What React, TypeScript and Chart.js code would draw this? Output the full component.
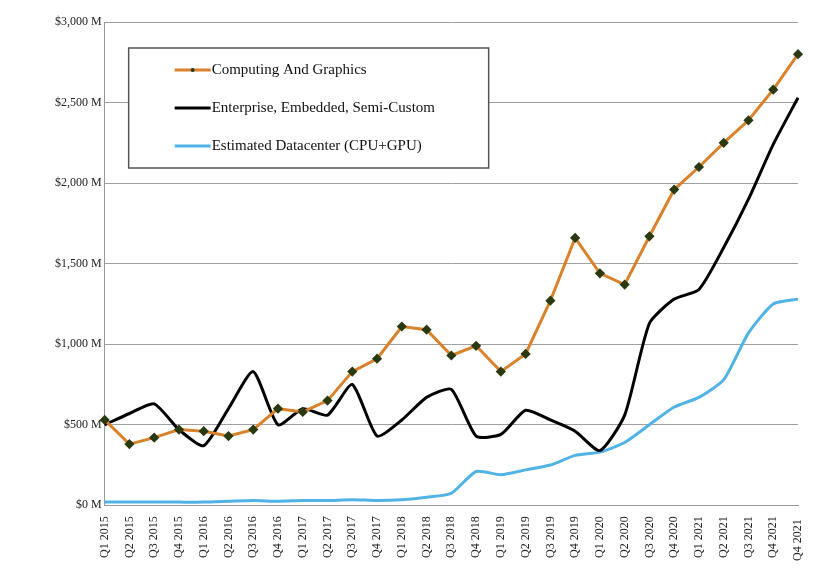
import React, { useEffect, useRef } from "react";
import { Chart, registerables } from "chart.js";
Chart.register(...registerables);

const labels = ["Q1 2015","Q2 2015","Q3 2015","Q4 2015","Q1 2016","Q2 2016","Q3 2016","Q4 2016","Q1 2017","Q2 2017","Q3 2017","Q4 2017","Q1 2018","Q2 2018","Q3 2018","Q4 2018","Q1 2019","Q2 2019","Q3 2019","Q4 2019","Q1 2020","Q2 2020","Q3 2020","Q4 2020","Q1 2021","Q2 2021","Q3 2021","Q4 2021","Q4 2021 "];
const computing = [530,380,420,470,460,430,470,600,580,650,830,910,1110,1090,930,990,830,940,1270,1660,1440,1370,1670,1960,2100,2250,2390,2580,2800];
const enterprise = [500,570,630,470,370,600,830,500,600,560,750,430,530,670,720,430,440,590,530,460,340,560,1130,1280,1340,1600,1900,2240,2530];
const datacenter = [20,20,20,20,20,25,30,25,30,30,35,30,35,50,75,210,190,220,250,310,330,390,500,610,670,780,1070,1250,1280];
const legendItems = ["Computing And Graphics","Enterprise, Embedded, Semi-Custom","Estimated Datacenter (CPU+GPU)"];
const legendColors = ["#d9822b","#000000","#4fb3e6"];
const FONT = "'Liberation Serif', serif";

const legendPlugin = {
  id: "boxLegend",
  afterDraw(chart: any) {
    const { ctx, chartArea } = chart;
    const x0 = chartArea.left + 24, y0 = chartArea.top + 26, w = 360, h = 120;
    ctx.save();
    ctx.fillStyle = "#fff";
    ctx.fillRect(x0, y0, w, h);
    ctx.strokeStyle = "#555";
    ctx.lineWidth = 1.5;
    ctx.strokeRect(x0, y0, w, h);
    ctx.font = "15px " + FONT;
    ctx.textBaseline = "middle";
    legendItems.forEach((t, i) => {
      const y = y0 + 22 + i * 38;
      ctx.strokeStyle = legendColors[i];
      ctx.lineWidth = 3;
      ctx.beginPath(); ctx.moveTo(x0 + 46, y); ctx.lineTo(x0 + 82, y); ctx.stroke();
      if (i === 0) { ctx.fillStyle = "#2a3a10"; ctx.beginPath(); ctx.arc(x0 + 64, y, 2, 0, Math.PI * 2); ctx.fill(); }
      ctx.fillStyle = "#111";
      ctx.fillText(t, x0 + 83, y);
    });
    ctx.restore();
  },
};

export default function App() {
  const ref = useRef<HTMLCanvasElement>(null);
  useEffect(() => {
    const chart = new Chart(ref.current!, {
      type: "line",
      data: {
        labels,
        datasets: [
          { data: computing, borderColor: "#d9822b", borderWidth: 3, tension: 0, pointRadius: 3, pointStyle: "rectRot", pointBackgroundColor: "#2a3a10", pointBorderColor: "#2a3a10" },
          { data: enterprise, borderColor: "#000", borderWidth: 3, tension: 0.2, pointRadius: 0 },
          { data: datacenter, borderColor: "#4fb3e6", borderWidth: 3, tension: 0.2, pointRadius: 0 },
        ],
      },
      options: {
        animation: false,
        responsive: false,
        layout: { padding: { top: 14, right: 18, left: 44, bottom: 4 } },
        plugins: { legend: { display: false }, tooltip: { enabled: false } },
        scales: {
          x: {
            offset: false,
            grid: { display: false },
            border: { color: "#999" },
            ticks: { maxRotation: 90, minRotation: 90, autoSkip: false, color: "#222", font: { family: FONT, size: 12 } },
          },
          y: {
            min: 0, max: 3000,
            ticks: { stepSize: 500, color: "#222", font: { family: FONT, size: 12 }, callback: (v: any) => "$" + Number(v).toLocaleString("en-US") + " M" },
            grid: { color: "#a0a0a0", drawTicks: false },
            border: { color: "#999" },
          },
        },
      },
      plugins: [legendPlugin],
    });
    return () => chart.destroy();
  }, []);
  return <canvas ref={ref} width={808} height={560} />;
}
